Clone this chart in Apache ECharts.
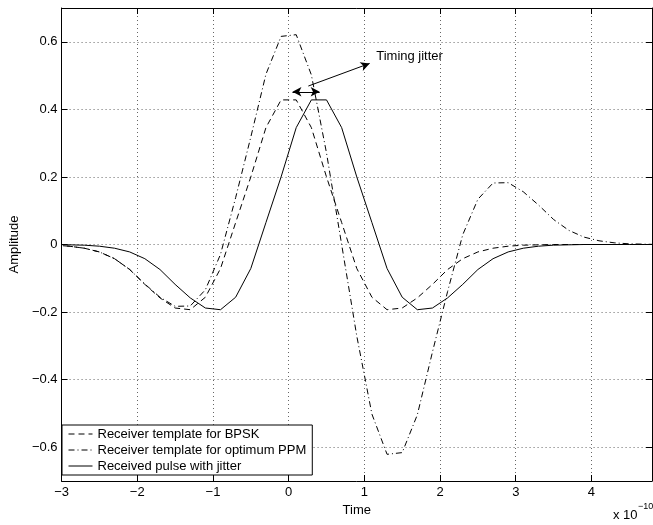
<!DOCTYPE html>
<html>
<head>
<meta charset="utf-8">
<script src="https://cdn.jsdelivr.net/npm/echarts@6/dist/echarts.min.js"></script>
<style>
  html, body { margin: 0; padding: 0; background: #fff; }
  #chart { width: 653px; height: 525px; }
</style>
</head>
<body>
<div id="chart"></div>
<script>
// Sample instants (units of 1e-10 s)
const timeAxis = [-3.1, -2.9, -2.7, -2.5, -2.3, -2.1, -1.9, -1.7, -1.5, -1.3, -1.1, -0.9, -0.7, -0.5, -0.3, -0.1,
  0.1, 0.3, 0.5, 0.7, 0.9, 1.1, 1.3, 1.5, 1.7, 1.9, 2.1, 2.3, 2.5, 2.7, 2.9, 3.1, 3.3, 3.5, 3.7, 3.9,
  4.1, 4.3, 4.5, 4.7, 4.9];

// Receiver template for BPSK
const bpsk = [-0.002, -0.005, -0.011, -0.022, -0.042, -0.074, -0.118, -0.158, -0.188, -0.193, -0.156, -0.071,
  0.065, 0.200, 0.346, 0.428, 0.428, 0.346, 0.200, 0.065, -0.071, -0.156, -0.193, -0.188, -0.158, -0.118,
  -0.074, -0.042, -0.022, -0.011, -0.005, -0.002, -0.001, 0, 0, 0, 0, 0, 0, 0, 0];

// Receiver template for optimum PPM
const ppm = [-0.002, -0.005, -0.011, -0.022, -0.042, -0.074, -0.117, -0.156, -0.183, -0.182, -0.134, -0.029,
  0.139, 0.318, 0.504, 0.616, 0.621, 0.502, 0.271, 0, -0.271, -0.502, -0.621, -0.616, -0.504, -0.318,
  -0.139, 0.029, 0.134, 0.182, 0.183, 0.156, 0.117, 0.074, 0.042, 0.022, 0.011, 0.005, 0.002, 0.001, 0];

// Received pulse with jitter
const received = [0, -0.001, -0.002, -0.005, -0.011, -0.022, -0.042, -0.074, -0.118, -0.158, -0.188, -0.193,
  -0.156, -0.071, 0.065, 0.200, 0.346, 0.428, 0.428, 0.346, 0.200, 0.065, -0.071, -0.156, -0.193, -0.188,
  -0.158, -0.118, -0.074, -0.042, -0.022, -0.011, -0.005, -0.002, -0.001, 0, 0, 0, 0, 0, 0];

const seriesNames = ['Receiver template for BPSK', 'Receiver template for optimum PPM', 'Received pulse with jitter'];
const xTicks = [-3, -2, -1, 0, 1, 2, 3, 4];
const yTicks = [-0.6, -0.4, -0.2, 0, 0.2, 0.4, 0.6];

// Jitter arrow (double-headed) and pointer to its caption
const jitterArrow = [[0.05, 0.452], [0.41, 0.452]];
const captionArrow = [[0.26, 0.469], [1.07, 0.536]];
const captionAt = [1.15, 0.556];

const FONT = '"Liberation Sans", Arial, Helvetica, sans-serif';
const fmt = v => (v < 0 ? '\u2212' + String(Math.abs(+v.toFixed(2))) : String(+(+v).toFixed(2)));

const pairs = ys => timeAxis.map((t, i) => [t, ys[i]]);

const axisLineStyle = { color: '#000', width: 1 };

const chart = echarts.init(document.getElementById('chart'), null, { renderer: 'canvas' });

chart.setOption({
  animation: false,
  backgroundColor: '#fff',
  color: ['#000', '#000', '#000'],
  textStyle: { fontFamily: FONT },
  grid: { left: 55, right: 1, top: 8, bottom: 44, containLabel: false },
  xAxis: [
    {
      type: 'value', min: -3, max: 4.8, position: 'bottom',
      name: 'Time', nameLocation: 'middle', nameGap: 21,
      nameTextStyle: { color: '#000', fontSize: 13, fontFamily: FONT },
      axisLine: { show: true, onZero: false, lineStyle: axisLineStyle },
      axisTick: { show: true, inside: true, length: 6, customValues: xTicks, lineStyle: { color: '#000' } },
      axisLabel: { show: true, customValues: xTicks, formatter: fmt, color: '#000', fontSize: 13, fontFamily: FONT, margin: 5 },
      splitLine: { show: true, lineStyle: { color: '#666', type: [1, 3], width: 1 } }
    },
    {
      type: 'value', min: -3, max: 4.8, position: 'top',
      axisLine: { show: true, onZero: false, lineStyle: axisLineStyle },
      axisTick: { show: true, inside: true, length: 6, customValues: xTicks, lineStyle: { color: '#000' } },
      axisLabel: { show: false },
      splitLine: { show: false }
    }
  ],
  yAxis: [
    {
      type: 'value', min: -0.7, max: 0.7, position: 'left',
      name: 'Amplitude', nameLocation: 'middle', nameGap: 35, nameRotate: 90,
      nameTextStyle: { color: '#000', fontSize: 13, fontFamily: FONT },
      axisLine: { show: true, onZero: false, lineStyle: axisLineStyle },
      axisTick: { show: true, inside: true, length: 6, customValues: yTicks, lineStyle: { color: '#000' } },
      axisLabel: { show: true, customValues: yTicks, formatter: fmt, color: '#000', fontSize: 13, fontFamily: FONT, margin: 4 },
      splitLine: { show: true, lineStyle: { color: '#666', type: [1, 3], width: 1 } }
    },
    {
      type: 'value', min: -0.7, max: 0.7, position: 'right',
      axisLine: { show: true, onZero: false, lineStyle: axisLineStyle },
      axisTick: { show: true, inside: true, length: 6, customValues: yTicks, lineStyle: { color: '#000' } },
      axisLabel: { show: false },
      splitLine: { show: false }
    }
  ],
  legend: {
    show: true,
    orient: 'vertical',
    left: 62, top: 425,
    backgroundColor: '#fff',
    borderColor: '#000', borderWidth: 1,
    padding: [2, 6, 2, 6],
    itemGap: 2,
    itemWidth: 24, itemHeight: 14,
    itemStyle: { opacity: 0 },
    lineStyle: { width: 1, color: '#000' },
    textStyle: { color: '#000', fontSize: 13, fontFamily: FONT, lineHeight: 14 },
    data: seriesNames,
    selectedMode: false
  },
  graphic: [
    { type: 'text', left: 613, top: 509, style: { text: 'x 10', fill: '#000', font: '13px ' + FONT } },
    { type: 'text', left: 638, top: 502, style: { text: '\u221210', fill: '#000', font: '9px ' + FONT } }
  ],
  series: [
    {
      name: seriesNames[0], type: 'line', data: pairs(bpsk), symbol: 'none', clip: true,
      itemStyle: { color: '#000' },
      lineStyle: { color: '#000', width: 1, type: [6, 4] }
    },
    {
      name: seriesNames[1], type: 'line', data: pairs(ppm), symbol: 'none', clip: true,
      itemStyle: { color: '#000' },
      lineStyle: { color: '#000', width: 1, type: [6, 3, 1, 3] }
    },
    {
      name: seriesNames[2], type: 'line', data: pairs(received), symbol: 'none', clip: true,
      itemStyle: { color: '#000' },
      lineStyle: { color: '#000', width: 1, type: 'solid' },
      markLine: {
        silent: true,
        symbol: ['arrow', 'arrow'],
        symbolSize: [7, 9],
        label: { show: false },
        lineStyle: { color: '#000', width: 1, type: 'solid' },
        emphasis: { disabled: true },
        data: [
          [{ coord: jitterArrow[0] }, { coord: jitterArrow[1] }],
          [{ coord: captionArrow[0], symbol: 'none' }, { coord: captionArrow[1], symbol: 'arrow' }]
        ]
      },
      markPoint: {
        silent: true,
        symbol: 'circle', symbolSize: 1,
        itemStyle: { color: 'rgba(0,0,0,0)' },
        label: { show: true, position: 'right', distance: 0, color: '#000', fontSize: 13, fontFamily: FONT, formatter: 'Timing jitter' },
        data: [{ coord: captionAt }]
      }
    }
  ]
});
</script>
</body>
</html>
